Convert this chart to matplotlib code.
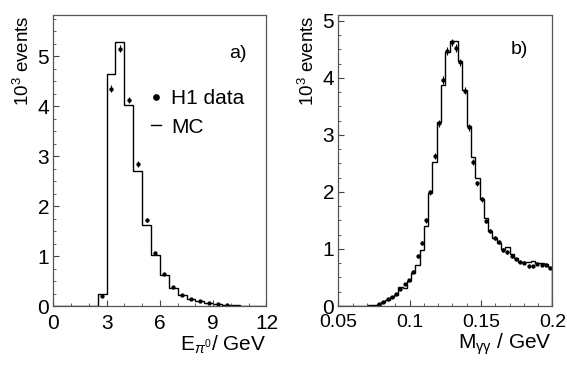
import numpy as np
import matplotlib
matplotlib.use("Agg")
import matplotlib.pyplot as plt
from matplotlib.ticker import MultipleLocator, FuncFormatter
from matplotlib.lines import Line2D

plt.rcParams['font.family'] = ['Liberation Sans', 'DejaVu Sans']
plt.rcParams['mathtext.fontset'] = 'custom'
plt.rcParams['mathtext.rm'] = 'Liberation Sans'
plt.rcParams['mathtext.it'] = 'Liberation Sans:italic'

# a) pi0 energy, 0.5 GeV bins from 0 to 12
e_edges = np.arange(0, 12.01, 0.5)
e_mc = [0, 0, 0, 0, 0, 0.24, 4.65, 5.29, 4.03, 2.71, 1.63, 1.02,
        0.62, 0.37, 0.22, 0.15, 0.10, 0.07, 0.05, 0.03, 0.02, 0.01, 0.01, 0.005]
e_data_x = [2.75, 3.25, 3.75, 4.25, 4.75, 5.25, 5.75, 6.25, 6.75,
            7.25, 7.75, 8.25, 8.75, 9.25, 9.75]
e_data_y = [0.21, 4.35, 5.15, 4.12, 2.84, 1.72, 1.07, 0.64, 0.38,
            0.22, 0.15, 0.10, 0.065, 0.045, 0.025]
e_data_err = [0.015, 0.066, 0.072, 0.064, 0.053, 0.041, 0.033, 0.025, 0.019,
              0.015, 0.012, 0.010, 0.008, 0.007, 0.005]

# b) two-photon mass, 3 MeV bins from 0.05 to 0.2
m_edges = np.linspace(0.05, 0.2, 51)
m_mc = [0, 0, 0, 0, 0, 0, 0, 0.01, 0.02, 0.04,
        0.07, 0.11, 0.15, 0.19, 0.33, 0.32, 0.43, 0.57, 0.72, 0.99,
        1.40, 1.98, 2.53, 3.22, 3.87, 4.46, 4.65, 4.65, 4.30, 3.79,
        3.16, 2.61, 2.24, 1.87, 1.54, 1.32, 1.19, 1.11, 1.00, 1.03,
        0.91, 0.84, 0.78, 0.77, 0.78, 0.79, 0.76, 0.75, 0.73, 0.68]
m_data_y = [0.035, 0.065, 0.12, 0.16, 0.21, 0.30, 0.38, 0.46, 0.60, 0.88,
            1.11, 1.50, 1.99, 2.63, 3.20, 3.96, 4.47, 4.62, 4.52, 4.27,
            3.77, 3.13, 2.53, 2.15, 1.87, 1.49, 1.32, 1.19, 1.12, 0.98,
            0.95, 0.88, 0.82, 0.78, 0.76, 0.70, 0.70, 0.74, 0.72, 0.72, 0.67]
m_data_x = 0.5 * (m_edges[:-1] + m_edges[1:])[9:]
m_data_err = [0.006, 0.008, 0.011, 0.013, 0.015, 0.017, 0.019, 0.021, 0.024, 0.03,
              0.033, 0.039, 0.045, 0.051, 0.057, 0.063, 0.067, 0.068, 0.067, 0.065,
              0.061, 0.056, 0.05, 0.046, 0.043, 0.039, 0.036, 0.034, 0.033, 0.031,
              0.031, 0.03, 0.029, 0.028, 0.028, 0.026, 0.026, 0.027, 0.027, 0.027, 0.026]

fig = plt.figure(figsize=(5.67, 3.69), dpi=100)
ax1 = fig.add_axes([0.094, 0.1707, 0.376, 0.7886])
ax2 = fig.add_axes([0.5967, 0.1707, 0.3774, 0.7886])

fs = 15
for ax in (ax1, ax2):
    for sp in ax.spines.values():
        sp.set_color('#555555')
        sp.set_linewidth(0.9)
    ax.tick_params(which='both', direction='in', top=False, right=False,
                   labelsize=fs, color='#444444')
    ax.tick_params(axis='x', pad=6)
    ax.tick_params(axis='y', pad=3)
    ax.tick_params(which='major', length=4)
    ax.tick_params(which='minor', length=2)
    ax.yaxis.set_major_locator(MultipleLocator(1))
    ax.yaxis.set_minor_locator(MultipleLocator(0.25))
    ax.set_ylabel(r'10$^3$ events', fontsize=13.5, loc='top', labelpad=3)

# panel a
ax1.stairs(e_mc, e_edges, color='black', lw=1.0)
ax1.errorbar(e_data_x, e_data_y, yerr=e_data_err, fmt='o', ms=2.1,
             color='black', elinewidth=0.8, capsize=0)
ax1.set_xlim(0, 12)
ax1.set_ylim(0, 5.82)
ax1.xaxis.set_major_locator(MultipleLocator(3))
ax1.xaxis.set_minor_locator(MultipleLocator(1))
ax1.set_xlabel(r'E$_{\pi^0}$/ GeV', fontsize=fs, loc='right', labelpad=0)
ax1.text(0.866, 0.869, 'a)', transform=ax1.transAxes, fontsize=14,
         ha='center', va='center')
handles = [Line2D([], [], marker='o', ls='none', color='black', ms=3.8),
           Line2D([], [], color='black', lw=1.0)]
ax1.legend(handles, ['H1 data', 'MC'], loc='upper left',
           bbox_to_anchor=(0.46, 0.745), frameon=False, fontsize=fs,
           handlelength=0.45, handletextpad=0.5, borderpad=0,
           borderaxespad=0, labelspacing=0.45)

# panel b
ax2.stairs(m_mc, m_edges, color='black', lw=1.0)
ax2.errorbar(m_data_x, m_data_y, yerr=m_data_err, fmt='o', ms=2.1,
             color='black', elinewidth=0.8, capsize=0)
ax2.set_xlim(0.05, 0.2)
ax2.set_ylim(0, 5.1)
ax2.xaxis.set_major_locator(MultipleLocator(0.05))
ax2.xaxis.set_minor_locator(MultipleLocator(0.01))
ax2.xaxis.set_major_formatter(FuncFormatter(lambda v, p: '%g' % round(v, 3)))
ax2.tick_params(axis='x', labelsize=14)
ax2.set_xlabel(r'M$_{\mathrm{\gamma\gamma}}$ / GeV', fontsize=fs, loc='right', labelpad=0)
ax2.text(0.844, 0.88, 'b)', transform=ax2.transAxes, fontsize=14,
         ha='center', va='center')

fig.savefig('out.png', dpi=100)
